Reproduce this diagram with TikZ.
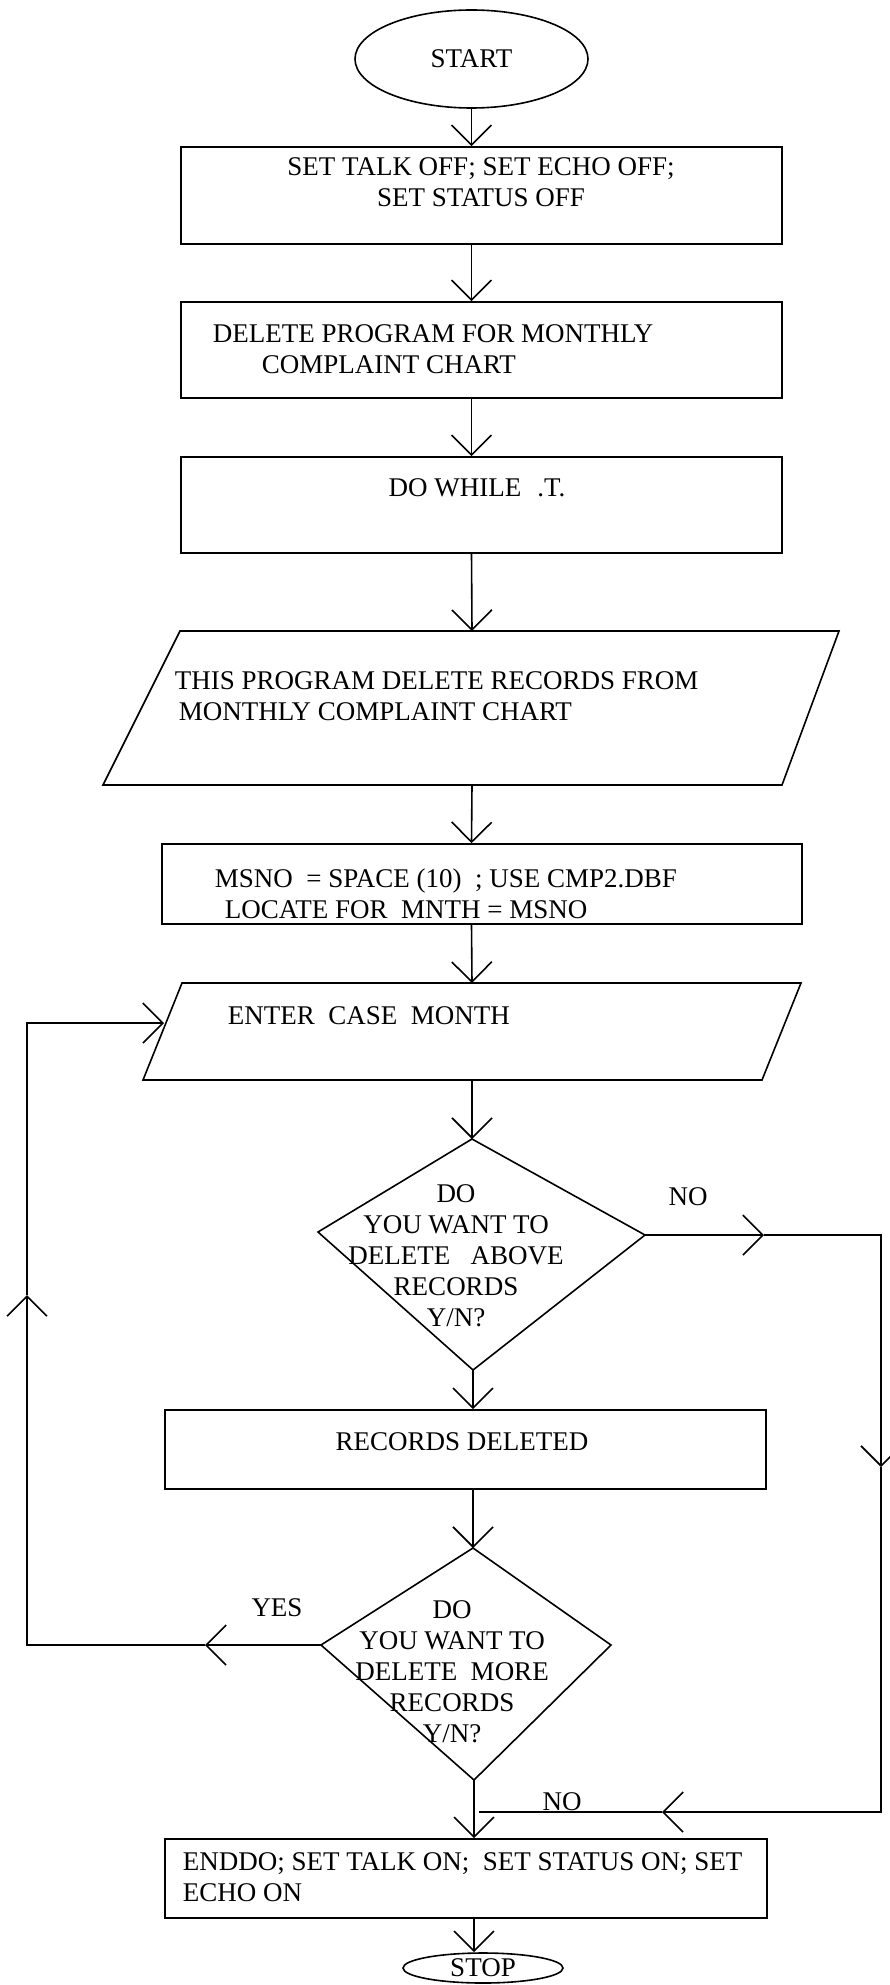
\documentclass[tikz,border=0pt]{standalone}
\usepackage{fontspec}
\setmainfont{Liberation Serif}
\usetikzlibrary{arrows.meta,shapes.geometric,positioning}

\tikzset{
    block/.style={draw, rectangle, inner sep=0pt},
    oval/.style={draw, ellipse, inner sep=0pt},
    txt/.style={inner sep=0pt, font=\fontsize{13.5}{15.5}\selectfont},
}

\begin{document}
\begin{tikzpicture}[x=0.5pt, y=-0.5pt, line width=0.8pt,
        >={Straight Barb[length=10pt,width=20pt]}]
        \useasboundingbox (0,0) rectangle (889,1985);

        %%%%%%%%%% Blocks %%%%%%%%%%
        \node[oval, minimum width=116.5pt, minimum height=49pt, txt] (start) at (471.5,59) {START};

        \node[block, minimum width=300.5pt, minimum height=48.5pt] (setoff) at (481.5,195.5) {};
        \node[txt, align=center] (setofftxt) at (481,182.5) {SET TALK OFF; SET ECHO OFF;\\SET STATUS OFF};

        \node[block, minimum width=300.5pt, minimum height=48pt] (delprog) at (481.5,350) {};
        \node[txt, align=left, anchor=west] (delprogtxt) at (212,349) {DELETE PROGRAM FOR MONTHLY\\\hspace*{24.5pt}COMPLAINT CHART};

        \node[block, minimum width=300.5pt, minimum height=48pt] (dowhile) at (481.5,505) {};
        \node[txt] (dowhiletxt) at (477,488) {DO WHILE\hspace{8pt}.T.};

        % parallelogram 1
        \coordinate (p1n) at (472,631);
        \coordinate (p1s) at (472,785);
        \draw (180,631) -- (839,631) -- (782,785) -- (103,785) -- cycle;
        \node[txt, align=left, anchor=west] (infotxt) at (174,696) {THIS PROGRAM DELETE RECORDS FROM\\\hspace*{2pt}MONTHLY COMPLAINT CHART};

        \node[block, minimum width=320pt, minimum height=40pt] (msno) at (482,884) {};
        \node[txt, align=left, anchor=west] (msnotxt) at (214,893.5) {MSNO\ \ = SPACE (10)\ \ ; USE CMP2.DBF\\\hspace*{5pt}LOCATE FOR\ \ MNTH = MSNO};

        % parallelogram 2
        \coordinate (p2n) at (472,983);
        \coordinate (p2s) at (472,1080);
        \coordinate (p2w) at (164,1023);
        \draw (182,983) -- (801,983) -- (762,1080) -- (143,1080) -- cycle;
        \node[txt, anchor=west] (entertxt) at (227,1016) {ENTER\ \ CASE\ \ MONTH};

        % diamond 1
        \coordinate (d1t) at (472,1139);
        \coordinate (d1r) at (645,1235);
        \coordinate (d1b) at (473,1370);
        \coordinate (d1l) at (318,1232);
        \draw (d1t) -- (d1r) -- (d1b) -- (d1l) -- cycle;
        \node[txt, align=center] (ask1) at (456,1256) {DO\\YOU WANT TO\\DELETE\ \ \ ABOVE\\RECORDS\\Y/N?};

        \node[block, minimum width=300.5pt, minimum height=39.5pt] (deleted) at (465.5,1449.5) {};
        \node[txt] (deletedtxt) at (462,1442) {RECORDS DELETED};

        % diamond 2
        \coordinate (d2t) at (473,1548);
        \coordinate (d2r) at (611,1645);
        \coordinate (d2b) at (474,1780);
        \coordinate (d2l) at (321,1645);
        \draw (d2t) -- (d2r) -- (d2b) -- (d2l) -- cycle;
        \node[txt, align=center] (ask2) at (452,1672) {DO\\YOU WANT TO\\DELETE\ \ MORE\\RECORDS\\Y/N?};

        \node[block, minimum width=301pt, minimum height=39.5pt] (enddo) at (466,1878.5) {};
        \node[txt, align=left, anchor=west] (enddotxt) at (182,1877) {ENDDO; SET TALK ON;\ \ SET STATUS ON; SET\\ECHO ON};

        \node[oval, minimum width=80pt, minimum height=15pt, txt] (stop) at (483,1968) {STOP};

        %%%%%%%%% Arrows %%%%%%%%%
        \draw[->] (start.south) -- (start |- setoff.north);
        \draw[->] (start |- setoff.south) -- (start |- delprog.north);
        \draw[->] (start |- delprog.south) -- (start |- dowhile.north);
        \draw[->] (start |- dowhile.south) -- (p1n);
        \draw[->] (p1s) -- (start |- msno.north);
        \draw[->] (start |- msno.south) -- (p2n);
        \draw[->] (p2s) -- (d1t);
        \draw[->] (d1b) -- (d1b |- deleted.north);
        \draw[->] (d1b |- deleted.south) -- (d2t);
        \draw[->] (d2b) -- (d2b |- enddo.north);
        \draw[->] (d2b |- enddo.south) -- (d2b |- stop.north);

        % NO branch
        \coordinate (noA) at (764,1235);
        \coordinate (rt) at (881,1235);
        \coordinate (dnA) at (881,1467);
        \coordinate (rb) at (881,1812);
        \coordinate (backA) at (662,1812);
        \coordinate (jn) at (479,1812);
        \draw[->] (d1r) -- (noA);
        \draw[->] (noA) -- (rt) -- (dnA);
        \draw[->] (dnA) -- (rb) -- (backA);
        \draw (backA) -- (jn);
        \node[txt] (no1) at (688,1197) {NO};
        \node[txt] (no2) at (562,1802) {NO};

        % YES branch
        \coordinate (yesA) at (205,1645);
        \coordinate (lb) at (27,1645);
        \coordinate (upA) at (27,1295);
        \coordinate (lt) at (27,1023);
        \draw[->] (d2l) -- (yesA);
        \draw[->] (yesA) -- (lb) -- (upA);
        \draw[->] (upA) -- (lt) -- (p2w);
        \node[txt] (yes) at (277,1608) {YES};
    \end{tikzpicture}
\end{document}
